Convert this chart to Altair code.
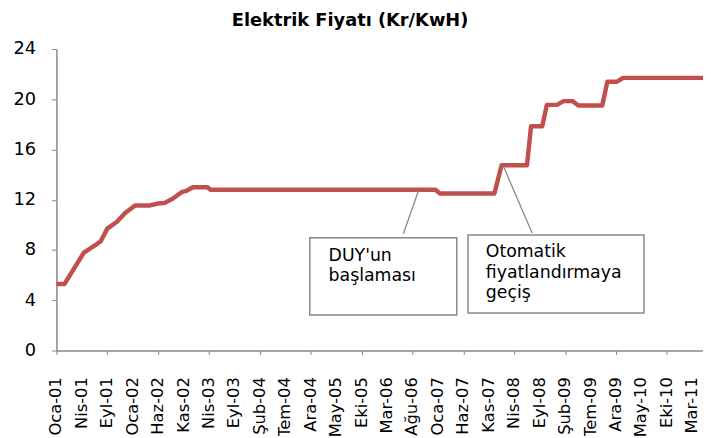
import altair as alt
import pandas as pd

# ---- data (x in category steps: Oca-01 = 0, one label every 5 steps) ----
line_x = [0, 1.6, 5.4, 7.7, 8.7, 10.0, 11.9, 13.5, 15.5, 18.4, 20.0, 21.3, 22.9, 24.6, 25.5,
          26.8, 29.7, 30.3, 74.5, 75.4, 86.1, 87.5, 92.5, 93.3, 95.5, 96.4, 98.4, 99.7,
          101.5, 102.6, 107.3, 108.3, 110.2, 111.4, 127.1]
line_y = [5.3, 5.3, 7.8, 8.4, 8.7, 9.7, 10.25, 10.95, 11.55, 11.55, 11.7, 11.75, 12.1, 12.6, 12.7,
          13.0, 13.0, 12.8, 12.8, 12.5, 12.5, 14.75, 14.75, 17.85, 17.85, 19.55, 19.55, 19.85,
          19.85, 19.5, 19.5, 21.4, 21.4, 21.7, 21.7]

tick_labels = ["Oca-01", "Nis-01", "Eyl-01", "Oca-02", "Haz-02", "Kas-02", "Nis-03", "Eyl-03",
               "Şub-04", "Tem-04", "Ara-04", "May-05", "Eki-05", "Mar-06", "Ağu-06", "Oca-07",
               "Haz-07", "Kas-07", "Nis-08", "Eyl-08", "Şub-09", "Tem-09", "Ara-09", "May-10",
               "Eki-10", "Mar-11"]
tick_pos = [5 * i for i in range(len(tick_labels))]
y_ticks = [0, 4, 8, 12, 16, 20, 24]

# annotation boxes (data units)
box_x1 = [49.8, 80.9]
box_x2 = [78.7, 115.5]
box_y1 = [2.83, 2.99]
box_y2 = [8.97, 9.2]
# leader lines
lead_x1 = [71.2, 87.9]
lead_y1 = [12.75, 14.64]
lead_x2 = [68.2, 93.5]
lead_y2 = [9.29, 9.36]
# annotation texts
note_text = ["DUY'un", "başlaması", "Otomatik", "fiyatlandırmaya", "geçiş"]
note_x = [53.5, 53.5, 84.4, 84.4, 84.4]
note_y = [7.5, 5.9, 7.8, 6.2, 4.55]

FONT = "DejaVu Sans"
RED = "#C0504D"
GRAY = "#888888"

df_line = pd.DataFrame({"x": line_x, "y": line_y})
df_box = pd.DataFrame({"x1": box_x1, "x2": box_x2, "y1": box_y1, "y2": box_y2})
df_lead = pd.DataFrame({"x1": lead_x1, "x2": lead_x2, "y1": lead_y1, "y2": lead_y2})
df_note = pd.DataFrame({"t": note_text, "x": note_x, "y": note_y})
df_ticks = pd.DataFrame({"x": tick_pos, "lab": tick_labels})

xscale = alt.Scale(domain=[0, 127.1], nice=False, zero=False)
yscale = alt.Scale(domain=[0, 24], nice=False)

xaxis = alt.Axis(values=tick_pos, labels=False,
                 tickSize=4, tickColor=GRAY, domainColor=GRAY, domainWidth=1.5,
                 grid=False, title=None)
yaxis = alt.Axis(values=y_ticks, tickSize=5, tickColor=GRAY, domainColor=GRAY, domainWidth=1.5,
                 labelPadding=16, labelFontSize=18, labelFont=FONT, labelColor="black",
                 grid=False, title=None)

line = alt.Chart(df_line).mark_line(color=RED, strokeWidth=4.5, strokeJoin="round").encode(
    x=alt.X("x:Q", scale=xscale, axis=xaxis),
    y=alt.Y("y:Q", scale=yscale, axis=yaxis),
)

# category labels, placed through the x scale below the axis
xlabels = alt.Chart(df_ticks).mark_text(angle=270, align="right", baseline="middle", font=FONT,
                                        fontSize=16.5, color="black", dx=-1).encode(
    x=alt.X("x:Q", scale=xscale),
    y=alt.value(331),
    text="lab:N",
)

leads = alt.Chart(df_lead).mark_rule(color=GRAY, strokeWidth=1.3).encode(
    x=alt.X("x1:Q", scale=xscale), x2="x2:Q",
    y=alt.Y("y1:Q", scale=yscale), y2="y2:Q",
)

boxes = alt.Chart(df_box).mark_rect(fill="white", stroke=GRAY, strokeWidth=1.5).encode(
    x=alt.X("x1:Q", scale=xscale), x2="x2:Q",
    y=alt.Y("y1:Q", scale=yscale), y2="y2:Q",
)

notes = alt.Chart(df_note).mark_text(align="left", baseline="middle", font=FONT,
                                      fontSize=17.5, color="black").encode(
    x=alt.X("x:Q", scale=xscale),
    y=alt.Y("y:Q", scale=yscale),
    text="t:N",
)

chart = alt.layer(line, leads, boxes, notes, xlabels).properties(
    width=654, height=305,
    title=alt.TitleParams("Elektrik Fiyatı (Kr/KwH)", font=FONT, fontSize=18, fontWeight="bold",
                          color="black", anchor="middle", dx=-30, offset=10),
    padding={"left": 49, "top": 39, "right": 0, "bottom": 84},
    autosize=alt.AutoSizeParams(type="none"),
).configure_view(stroke=None, clip=False)

chart.save("out.html", embed_options={"renderer": "svg", "actions": False})
